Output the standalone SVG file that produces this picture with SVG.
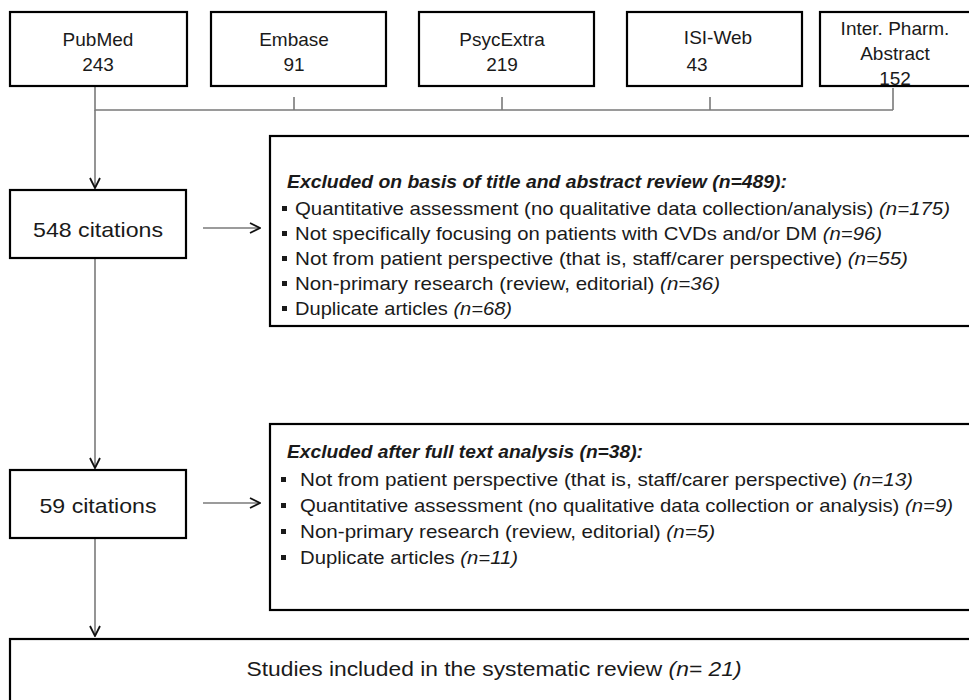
<svg xmlns="http://www.w3.org/2000/svg" width="969" height="700" viewBox="0 0 969 700">
<defs>
<style>
.box{fill:#fff;stroke:#000;stroke-width:2.2}
.t{font-family:"Liberation Sans",Arial,sans-serif;font-size:19px;fill:#1a1a1a}
.c{text-anchor:middle}
.big{font-size:21px}
.ttl{font-weight:bold;font-style:italic}
.i{font-style:italic}
.ln{stroke:#7a7a7a;stroke-width:1.6;fill:none}
.bul{fill:#1a1a1a}
</style>
<marker id="ah" viewBox="0 0 12 12" refX="11" refY="6" markerWidth="12" markerHeight="12" markerUnits="userSpaceOnUse" orient="auto">
<path d="M1,1 L11,6 L1,11" fill="none" stroke="#111" stroke-width="1.8"/>
</marker>
</defs>
<rect width="969" height="700" fill="#fff"/>

<g id="connectors">
<path class="ln" d="M95,87 V110 H893"/>
<path class="ln" d="M294,97 V110 M502,97 V110 M710,97 V110 M893,88 V110"/>
<path class="ln" d="M95,110 V188" marker-end="url(#ah)"/>
<path class="ln" d="M95,258 V468" marker-end="url(#ah)"/>
<path class="ln" d="M95,538 V636" marker-end="url(#ah)"/>
<path class="ln" d="M203,228 H260" marker-end="url(#ah)"/>
<path class="ln" d="M203,503 H260" marker-end="url(#ah)"/>
</g>

<g id="pubmed">
<rect class="box" x="10" y="12" width="177" height="74"/>
<text class="t c" x="98" y="46">PubMed</text>
<text class="t c" x="98" y="71">243</text>
</g>
<g id="embase">
<rect class="box" x="211" y="12" width="175" height="74"/>
<text class="t c" x="294" y="46">Embase</text>
<text class="t c" x="294" y="71">91</text>
</g>
<g id="psycextra">
<rect class="box" x="419" y="12" width="175" height="74"/>
<text class="t c" x="502" y="46">PsycExtra</text>
<text class="t c" x="502" y="71">219</text>
</g>
<g id="isiweb">
<rect class="box" x="627" y="12" width="175" height="74"/>
<text class="t c" x="718" y="44">ISI-Web</text>
<text class="t c" x="697" y="71">43</text>
</g>
<g id="ipa">
<rect class="box" x="820" y="12" width="160" height="74"/>
<text class="t c" x="895" y="35">Inter. Pharm.</text>
<text class="t c" x="895" y="60">Abstract</text>
<text class="t c" x="895" y="85">152</text>
</g>

<g id="citations548">
<rect class="box" x="10" y="190" width="176" height="68"/>
<text class="t c big" x="98" y="237" textLength="130" lengthAdjust="spacingAndGlyphs">548 citations</text>
</g>

<g id="excluded1">
<rect class="box" x="270" y="136" width="710" height="190"/>
<text class="t ttl" x="287" y="188" textLength="500" lengthAdjust="spacingAndGlyphs">Excluded on basis of title and abstract review (n=489):</text>
<rect class="bul" x="282" y="206" width="5" height="5"/>
<text class="t" x="295" y="215" textLength="655" lengthAdjust="spacingAndGlyphs">Quantitative assessment (no qualitative data collection/analysis) <tspan class="i">(n=175)</tspan></text>
<rect class="bul" x="282" y="231" width="5" height="5"/>
<text class="t" x="295" y="240" textLength="587" lengthAdjust="spacingAndGlyphs">Not specifically focusing on patients with CVDs and/or DM <tspan class="i">(n=96)</tspan></text>
<rect class="bul" x="282" y="256" width="5" height="5"/>
<text class="t" x="295" y="265" textLength="613" lengthAdjust="spacingAndGlyphs">Not from patient perspective (that is, staff/carer perspective) <tspan class="i">(n=55)</tspan></text>
<rect class="bul" x="282" y="281" width="5" height="5"/>
<text class="t" x="295" y="290" textLength="425" lengthAdjust="spacingAndGlyphs">Non-primary research (review, editorial) <tspan class="i">(n=36)</tspan></text>
<rect class="bul" x="282" y="306" width="5" height="5"/>
<text class="t" x="295" y="315" textLength="217" lengthAdjust="spacingAndGlyphs">Duplicate articles <tspan class="i">(n=68)</tspan></text>
</g>

<g id="citations59">
<rect class="box" x="10" y="470" width="176" height="68"/>
<text class="t c big" x="98" y="513" textLength="117" lengthAdjust="spacingAndGlyphs">59 citations</text>
</g>

<g id="excluded2">
<rect class="box" x="270" y="424" width="710" height="186"/>
<text class="t ttl" x="287" y="458" textLength="356" lengthAdjust="spacingAndGlyphs">Excluded after full text analysis (n=38):</text>
<rect class="bul" x="281" y="477" width="5" height="5"/>
<text class="t" x="300" y="486" textLength="613" lengthAdjust="spacingAndGlyphs">Not from patient perspective (that is, staff/carer perspective) <tspan class="i">(n=13)</tspan></text>
<rect class="bul" x="281" y="503" width="5" height="5"/>
<text class="t" x="300" y="512" textLength="653" lengthAdjust="spacingAndGlyphs">Quantitative assessment (no qualitative data collection or analysis) <tspan class="i">(n=9)</tspan></text>
<rect class="bul" x="281" y="529" width="5" height="5"/>
<text class="t" x="300" y="538" textLength="415" lengthAdjust="spacingAndGlyphs">Non-primary research (review, editorial) <tspan class="i">(n=5)</tspan></text>
<rect class="bul" x="281" y="555" width="5" height="5"/>
<text class="t" x="300" y="564" textLength="218" lengthAdjust="spacingAndGlyphs">Duplicate articles <tspan class="i">(n=11)</tspan></text>
</g>

<g id="included">
<rect class="box" x="10" y="639" width="970" height="80"/>
<text class="t c big" x="494" y="676" textLength="495" lengthAdjust="spacingAndGlyphs">Studies included in the systematic review <tspan class="i">(n= 21)</tspan></text>
</g>
</svg>
